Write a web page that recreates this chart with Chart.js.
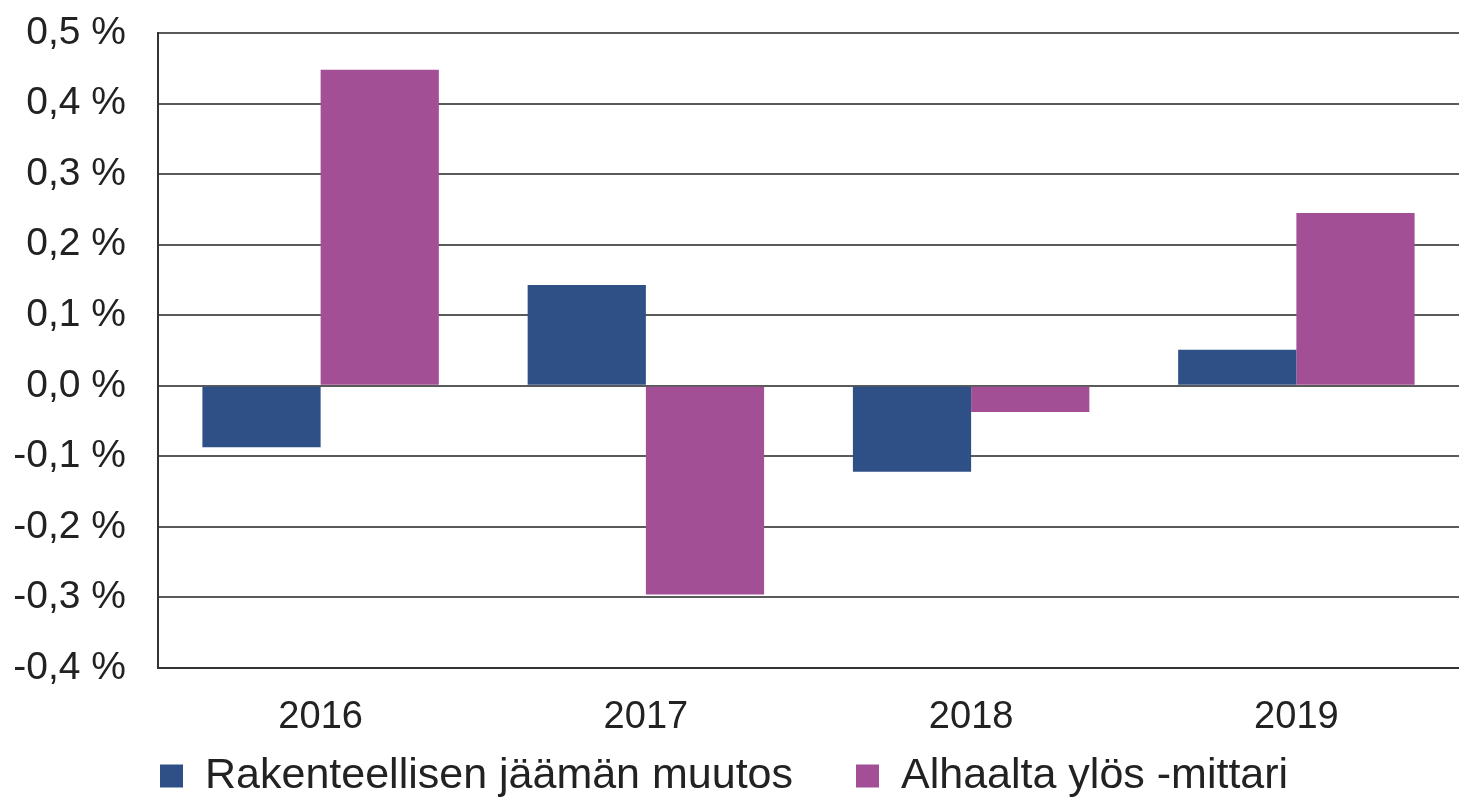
<!DOCTYPE html>
<html lang="fi">
<head>
    <meta charset="UTF-8">
    <title>Rakenteellisen jäämän muutos</title>
    <script src="https://cdn.jsdelivr.net/npm/chart.js"></script>
    <style>
        html, body { margin: 0; padding: 0; background: #fff; }
        #wrap { width: 1459px; height: 799px; }
    </style>
</head>
<body>
    <div id="wrap"><canvas id="chart"></canvas></div>

    <script>
        // Data (percent)
        const years = ['2016', '2017', '2018', '2019'];
        const structuralChange = [-0.087, 0.143, -0.122, 0.051];
        const bottomUpMeasure = [0.448, -0.296, -0.037, 0.245];
        const seriesNames = ['Rakenteellisen jäämän muutos', 'Alhaalta ylös -mittari'];
        const yMin = -0.4, yMax = 0.5, yStep = 0.1;

        const FONT = '"Liberation Sans", Arial, sans-serif';
        const TEXT = '#222';

        function fmtPct(v) {
            return v.toFixed(1).replace('.', ',') + ' %';
        }

        // simple legend drawn below the axis
        const bottomLegend = {
            id: 'bottomLegend',
            afterDraw(chart) {
                const ctx = chart.ctx;
                const y = 776;
                const box = 23;
                ctx.save();
                ctx.font = '43px ' + FONT;
                ctx.textBaseline = 'middle';
                let x = 160;
                chart.data.datasets.forEach((ds, i) => {
                    ctx.fillStyle = ds.backgroundColor;
                    ctx.fillRect(x, y - box / 2, box, box);
                    x += box + 22;
                    ctx.fillStyle = TEXT;
                    ctx.fillText(ds.label, x, y);
                    x += ctx.measureText(ds.label).width + 63;
                });
                ctx.restore();
            }
        };

        new Chart(document.getElementById('chart'), {
            type: 'bar',
            data: {
                labels: years,
                datasets: [
                    { label: seriesNames[0], data: structuralChange, backgroundColor: '#2F5086' },
                    { label: seriesNames[1], data: bottomUpMeasure, backgroundColor: '#A34F95' }
                ]
            },
            options: {
                responsive: true,
                maintainAspectRatio: false,
                animation: false,
                // plot runs a little past the right edge, as in the original
                layout: { padding: { top: 33, right: -14, bottom: 56, left: 0 } },
                datasets: { bar: { categoryPercentage: 0.727, barPercentage: 1.0 } },
                plugins: {
                    legend: { display: false },
                    tooltip: { enabled: false }
                },
                scales: {
                    x: {
                        grid: { display: false },
                        border: { display: true, color: '#333', width: 2 },
                        ticks: { color: TEXT, font: { family: FONT, size: 38 }, padding: 19 },
                        afterFit(scale) { scale.height = 75; }
                    },
                    y: {
                        min: yMin,
                        max: yMax,
                        grid: { color: '#5a5a5a', lineWidth: 2, drawTicks: false },
                        border: { display: true, color: '#333', width: 2 },
                        ticks: {
                            stepSize: yStep,
                            color: TEXT,
                            font: { family: FONT, size: 39 },
                            padding: 32,
                            callback: v => fmtPct(v)
                        },
                        afterFit(scale) {
                            scale.width = 158;
                            scale.paddingTop = 0;
                            scale.paddingBottom = 0;
                        }
                    }
                }
            },
            plugins: [bottomLegend]
        });
    </script>
</body>
</html>
